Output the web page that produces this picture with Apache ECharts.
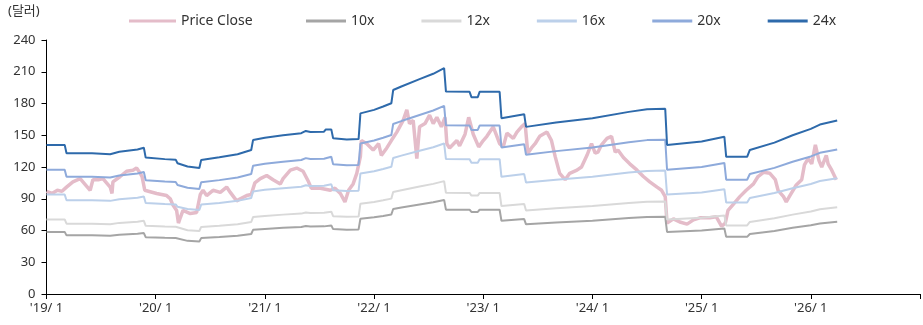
<!DOCTYPE html>
<html>
<head>
<meta charset="utf-8">
<script src="https://cdn.jsdelivr.net/npm/echarts@6/dist/echarts.min.js"></script>
<style>
  html, body { margin: 0; padding: 0; background: #fff; }
  #chart { width: 923px; height: 325px; }
</style>
</head>
<body>
<div id="chart"></div>
<script>
// x = months since 2019/1
const priceMonths = [0, 0.6, 1.2, 1.7, 2.2, 2.9, 3.7, 4.4, 4.8, 5.1, 5.7, 6.2, 7.0, 7.2, 7.3, 8.1, 8.8, 9.5, 9.9, 10.3,
  10.5, 10.8, 12.1, 13.2, 13.6, 13.9, 14.3, 14.5, 14.7, 15.0, 15.8, 16.5, 16.9, 17.2, 17.6, 18.3, 19.1, 19.8, 20.2, 20.9,
  21.3, 22.0, 22.5, 22.9, 23.5, 24.2, 24.9, 25.7, 26.0, 26.8, 27.5, 28.2, 28.8, 29.1, 30.1, 31.2, 31.7, 32.3, 32.8, 33.2,
  33.7, 34.1, 34.5, 34.6, 35.2, 35.9, 36.5, 36.8, 37.4, 37.9, 38.5, 39.2, 39.6, 39.9, 40.3, 40.7, 41.0, 41.6, 42.1, 42.5,
  42.9, 43.4, 43.8, 44.0, 44.3, 45.1, 45.4, 46.0, 46.4, 46.9, 47.5, 48.0, 48.4, 49.1, 49.5, 49.8, 50.2, 50.6, 51.3, 51.7,
  52.2, 52.6, 52.9, 53.3, 53.7, 54.2, 55.0, 55.5, 55.9, 56.4, 57.0, 57.5, 58.3, 58.8, 59.4, 59.9, 60.3, 60.6, 61.0, 61.6,
  62.1, 62.5, 62.8, 63.4, 64.1, 64.9, 65.6, 66.3, 67.1, 67.6, 68.0, 68.2, 68.9, 69.6, 70.4, 71.1, 71.8, 72.2, 72.9, 73.6,
  74.2, 74.6, 74.9, 75.5, 76.2, 76.9, 77.7, 78.2, 78.8, 79.5, 80.1, 80.4, 81.0, 81.3, 81.7, 82.4, 83.0, 83.3, 83.7, 84.1,
  84.5, 84.9, 85.2, 85.7, 85.9, 86.3, 86.8];
const priceValues = [97, 95, 98, 97, 101, 106, 109, 102, 98, 108, 108, 109, 101, 95, 106, 111, 116, 117, 119, 114,
  111, 98, 95, 93, 90, 84, 79, 67, 72, 79, 76, 77, 94, 98, 93, 98, 96, 101, 96, 88,
  90, 93, 94, 105, 109, 112, 108, 104, 109, 117, 119, 116, 106, 100, 100, 98, 100, 95, 87, 98,
  104, 114, 130, 145, 142, 136, 142, 131, 138, 145, 153, 164, 174, 161, 164, 128, 158, 161, 169, 161,
  167, 158, 167, 142, 138, 145, 140, 151, 167, 151, 139, 145, 149, 158, 149, 142, 139, 152, 147, 153,
  158, 161, 133, 138, 142, 149, 153, 145, 130, 114, 108, 114, 117, 120, 131, 142, 133, 134, 141, 147,
  149, 134, 136, 129, 123, 117, 111, 106, 101, 98, 92, 67, 71, 68, 66, 70, 72, 72, 72, 73,
  64, 67, 79, 85, 92, 98, 104, 111, 115, 114, 108, 98, 92, 87, 93, 103, 108, 122, 128, 123,
  141, 126, 120, 131, 123, 117, 108];

// 12M forward EPS (dollars)
const epsMonths = [0, 2.0, 2.2, 5, 7, 8, 10, 10.7, 10.9, 13, 14.2, 14.4, 15.5, 16.8, 17.0, 19, 21, 22.5, 22.7, 24,
  26, 28, 28.5, 29, 30.5, 30.7, 31.3, 31.5, 33, 34.3, 34.5, 36, 37, 37.9, 38.1, 39, 41, 42.5, 43.7, 43.9,
  46.5, 46.7, 47.4, 47.6, 49.8, 50.0, 52.5, 52.7, 56, 60, 64, 66, 68.0, 68.2, 72, 74.5, 74.7, 77, 77.3, 80,
  82, 84, 85, 86.9];
const eps = [5.87, 5.87, 5.54, 5.54, 5.50, 5.60, 5.69, 5.76, 5.37, 5.31, 5.29, 5.15, 5.02, 4.96, 5.28, 5.38, 5.50, 5.67, 6.06, 6.15,
  6.25, 6.33, 6.42, 6.38, 6.39, 6.48, 6.48, 6.13, 6.08, 6.10, 7.11, 7.25, 7.38, 7.51, 8.03, 8.17, 8.46, 8.67, 8.89, 7.97,
  7.96, 7.75, 7.75, 7.96, 7.96, 6.92, 7.08, 6.58, 6.75, 6.92, 7.17, 7.27, 7.29, 5.87, 6.00, 6.19, 5.40, 5.40, 5.67, 5.96,
  6.25, 6.50, 6.67, 6.83];

const multiples = [10, 12, 16, 20, 24];
const bandNames = ['10x', '12x', '16x', '20x', '24x'];
const bandColors = ['#a5a5a5', '#d9d9d9', '#bcd0ea', '#8eaadb', '#2e6aab'];

const font = '"Noto Sans", "Noto Sans CJK KR", sans-serif';

let chart = echarts.init(document.getElementById('chart'));

let series = [{
  name: 'Price Close',
  type: 'line',
  symbol: 'none',
  data: priceMonths.map((m, i) => [m, priceValues[i]]),
  lineStyle: { width: 3.5, color: '#e4bcc9' },
  itemStyle: { color: '#e4bcc9' },
}];
multiples.forEach((k, j) => {
  series.push({
    name: bandNames[j],
    type: 'line',
    symbol: 'none',
    data: epsMonths.map((m, i) => [m, +(eps[i] * k).toFixed(2)]),
    lineStyle: { width: 2, color: bandColors[j] },
    itemStyle: { color: bandColors[j] },
  });
});

let option = {
  animation: false,
  textStyle: { fontFamily: font },
  graphic: [{
    type: 'text', left: 8, top: 5,
    style: { text: '(달러)', fontSize: 13, fill: '#333', fontFamily: font }
  }],
  legend: [{
    data: ['Price Close'],
    left: 129, top: 14, padding: 0,
    icon: 'rect', itemWidth: 47, itemHeight: 3, itemGap: 5,
    textStyle: { fontSize: 14, color: '#333' }
  }, {
    data: bandNames,
    left: 306, top: 14, padding: 0,
    icon: 'rect', itemWidth: 40, itemHeight: 3, itemGap: 47,
    textStyle: { fontSize: 14, color: '#333' }
  }],
  grid: { left: 46.5, right: 3, top: 40, bottom: 31, containLabel: false },
  xAxis: {
    type: 'value', min: 0, max: 96, interval: 12,
    axisLine: { lineStyle: { color: '#000', width: 1 } },
    axisTick: { show: true, length: 5, lineStyle: { color: '#000' } },
    splitLine: { show: false },
    axisLabel: {
      color: '#333', fontSize: 13, margin: 8,
      formatter: v => v >= 96 ? '' : "'" + (19 + v / 12) + '/ 1'
    }
  },
  yAxis: {
    type: 'value', min: 0, max: 240, interval: 30,
    axisLine: { show: true, lineStyle: { color: '#000', width: 1 } },
    axisTick: { show: true, length: 5, lineStyle: { color: '#000' } },
    splitLine: { show: false },
    axisLabel: { color: '#333', fontSize: 13, margin: 11 }
  },
  series: series
};

chart.setOption(option);
</script>
</body>
</html>
